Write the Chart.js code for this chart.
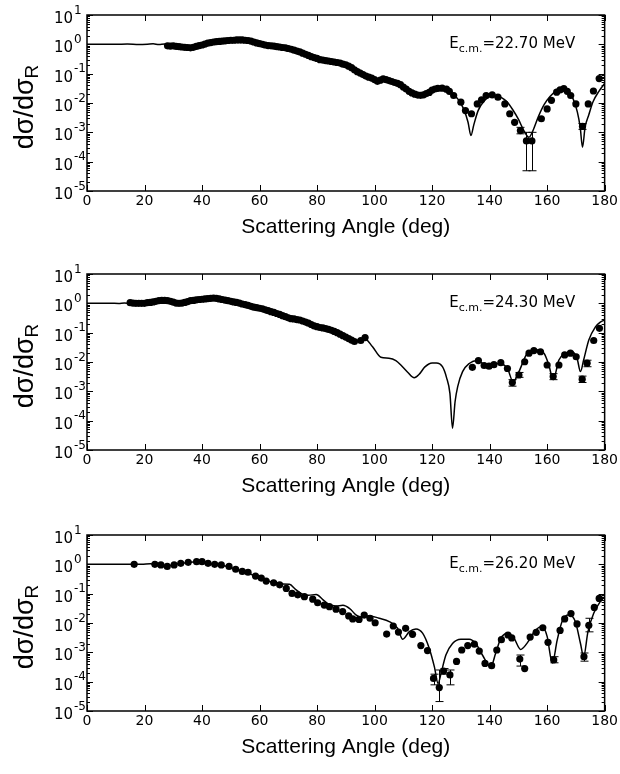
<!DOCTYPE html>
<html>
<head>
<meta charset="utf-8">
<script src="https://cdn.jsdelivr.net/npm/chart.js@4"></script>
<style>
  body { margin: 0; background: #fff; }
  canvas { position: absolute; left: 0; }
</style>
</head>
<body>
<canvas id="c1" width="620" height="250" style="top:0px"></canvas>
<canvas id="c2" width="620" height="250" style="top:259px"></canvas>
<canvas id="c3" width="620" height="250" style="top:520px"></canvas>
<script>
// ----------- Data ----------- //
const xTicks = [0, 20, 40, 60, 80, 100, 120, 140, 160, 180];
const yTicks = [10, 1, 0.1, 0.01, 0.001, 0.0001, 0.00001];
const yTickExps = ['1', '0', '-1', '-2', '-3', '-4', '-5'];
const energies = ['22.70', '24.30', '26.20'];
const xTitle = 'Scattering Angle (deg)';

// E = 22.70 MeV
const angle1 = [28, 29, 30, 31, 32, 33, 34, 35, 36, 37, 38, 39, 40, 41, 42, 43, 44, 45, 46, 47, 48, 49, 50,
  51, 52, 53, 54, 55, 56, 57, 58, 59, 60, 61, 62, 63, 64, 65, 66, 67, 68, 69, 70, 71, 72, 73, 74, 75,
  76, 77, 78, 79, 80, 81, 82, 83, 84, 85, 86, 87, 88, 89, 90, 91, 92, 93, 94, 95, 96, 97, 98, 99, 100,
  101, 102, 103, 104, 105, 106, 107, 108, 109, 110, 111, 112, 113, 114, 115, 116, 117, 118, 119, 120,
  121, 122, 123.5, 125, 126, 127.5, 130, 131.6, 133.7, 135.7, 137.2, 138.8, 140.9, 142.9, 145.3, 147,
  148.7, 150.7, 152.8, 154.7, 158, 160, 161.5, 163.3, 164.5, 165.8, 167, 168.2, 170, 172.3, 174.3, 176.1, 178.1];
const sigma1 = [.89, .87, .89, .85, .83, .81, .79, .78, .76, .79, .85, .91, .95, 1.02, 1.10, 1.15, 1.20, 1.23, 1.26, 1.29, 1.32, 1.35, 1.38,
  1.38, 1.41, 1.41, 1.41, 1.38, 1.35, 1.29, 1.20, 1.12, 1.05, 1.0, .95, .91, .89, .87, .83, .81, .78, .76, .72, .68, .63, .59, .55, .50,
  .46, .42, .38, .355, .33, .30, .29, .28, .27, .26, .25, .24, .23, .21, .20, .18, .16, .135, .117, .105, .093, .083, .076, .071, .063,
  .055, .060, .066, .063, .058, .054, .050, .047, .042, .035, .030, .025, .022, .020, .0186, .0182, .019, .021, .023, .0275,
  .030, .0316, .032, .0295, .025, .018, .0107, .0055, .0043, .0093, .0129, .018, .019, .0158, .0093, .0043,
  .0022, .00115, .00051, .00051, .0029, .0063, .0123, .0234, .028, .031, .025, .018, .0093, .0016, .0093, .0257, .068];
const curveAngle1 = [0, 5, 10, 14, 18, 21, 23, 25, 27, 28.5, 31, 34, 36, 38, 40, 43, 46, 50, 53, 56, 59, 62, 66, 70, 74, 78,
  82, 86, 90, 93, 96, 100, 102, 104, 108, 112, 115, 117, 120, 123, 125, 127, 129, 131, 132.5, 133.5, 134.5, 136, 138,
  140, 142, 144, 146, 148, 150, 152, 153.7, 155, 157, 159, 161, 163, 165, 167, 169, 170.5, 171.5, 172.3, 173.2, 174.5,
  176, 178, 180];
const curveSigma1 = [1.0, 1.0, 1.0, 1.02, .99, 1.01, 1.04, .98, 1.02, .90, .86, .80, .76, .84, .95, 1.15, 1.26, 1.38, 1.41, 1.35, 1.12, .95, .83, .72, .55, .38,
  .29, .25, .20, .135, .093, .063, .060, .063, .047, .025, .0186, .019, .0275, .032, .0295, .021, .0135, .0062, .0022, .00078, .0018, .0055, .0115,
  .0165, .018, .0155, .011, .006, .0028, .0011, .00068, .0011, .0035, .0089, .0166, .025, .0295, .025, .0141, .005, .0015, .00031, .0015, .004,
  .0112, .025, .046];
const errAngle1 = [150.7, 152.8, 154.7, 172.3];
const errLow1 = [8.9e-4, 4.9e-5, 4.9e-5, 1.26e-3];
const errHigh1 = [1.48e-3, 1.0e-3, 1.0e-3, 2.0e-3];

// E = 24.30 MeV
const angle2 = [15, 16, 17, 18, 19, 20, 21, 22, 23, 24, 25, 26, 27, 28, 29, 30, 31, 32, 33, 34, 35, 36, 37, 38, 39, 40,
  41, 42, 43, 44, 45, 46, 47, 48, 49, 50, 51, 52, 53, 54, 55, 56, 57, 58, 59, 60, 61, 62, 63, 64, 65, 66, 67, 68,
  69, 70, 71, 72, 73, 74, 75, 76, 77, 78, 79, 80, 81, 82, 83, 84, 85, 86, 87, 88, 89, 90, 91, 92, 93, 95.2, 96.7,
  134, 136.1, 138.1, 139.8, 141.5, 143.9, 146.2, 147.9, 150.2, 152.2, 153.7, 155.4, 157.7, 160, 162.1, 164.1,
  166.1, 168.1, 170.1, 172.2, 173.9, 176.2, 178.2];
const sigma2 = [1.05, 1.02, 1.0, 1.0, 1.0, 1.0, 1.05, 1.07, 1.12, 1.17, 1.23, 1.26, 1.26, 1.23, 1.17, 1.10, 1.02, 1.0, 1.02, 1.07, 1.15, 1.23, 1.26, 1.32, 1.35, 1.38,
  1.41, 1.45, 1.48, 1.51, 1.48, 1.41, 1.35, 1.29, 1.23, 1.17, 1.12, 1.07, 1.02, .95, .91, .85, .79, .74, .71, .68, .65, .60, .56, .52, .49, .45, .42, .38,
  .35, .32, .30, .295, .28, .27, .25, .23, .21, .19, .17, .16, .15, .145, .138, .129, .12, .11, .10, .089, .079, .071, .063, .056, .050, .054, .068,
  .0066, .0112, .0076, .0072, .0081, .0095, .006, .002, .0036, .0102, .020, .0245, .0224, .0079, .0032, .0079,
  .0174, .020, .0151, .0026, .0091, .054, .141];
const curveAngle2 = [0, 4, 8, 11, 13, 15, 18, 22, 26, 29, 32, 36, 40, 44, 47, 50, 54, 58, 62, 66, 70, 74, 78, 82, 86, 90, 93,
  96.4, 99.3, 102.2, 105, 107.4, 109.7, 111.5, 113.8, 115.5, 117.5, 120, 121.5, 123.6, 125, 126.2, 127.1, 128, 128.9,
  130.6, 132.9, 135.8, 138.7, 141, 143.3, 146.2, 148.2, 150.2, 153.1, 156, 158.9, 160.6, 162.1, 164.1, 166.4, 168.7,
  170.4, 171.6, 172.7, 174.5, 176.8, 178.5, 180];
const curveSigma2 = [1.0, 1.0, 1.01, .99, 1.02, 1.0, 1.0, 1.07, 1.26, 1.17, 1.0, 1.23, 1.38, 1.51, 1.35, 1.17, .95, .74, .60, .45, .32, .27, .19, .145, .11, .071, .052,
  .065, .033, .0145, .0135, .0112, .0069, .0045, .0029, .0038, .0068, .0093, .0093, .0069, .0030, .00085, .000055, .00045, .00145,
  .0047, .0089, .0112, .0079, .0083, .0089, .006, .0021, .0047, .020, .026, .020, .0079, .0025, .0117, .020, .0224,
  .0135, .0047, .0117, .056, .158, .23, .27];
const errAngle2 = [147.9, 150.2, 162.1, 172.2, 173.9];
const errLow2 = [1.5e-3, 3.0e-3, 2.5e-3, 2.0e-3, 6.9e-3];
const errHigh2 = [2.5e-3, 4.4e-3, 4.0e-3, 3.3e-3, 1.15e-2];

// E = 26.20 MeV
const angle3 = [16.4, 23.6, 25.7, 27.9, 30.3, 32.6, 35.2, 38.1, 40, 42.1, 44.4, 46.7, 49.4, 51.7, 54, 56, 58.6, 60.6, 62.3,
  64.9, 67, 69.3, 71.3, 73.3, 75.6, 78.5, 80.2, 82.5, 84.3, 86.6, 88.9, 91, 92.4, 94.6, 96.4, 98.4, 100.2, 104.2, 106.5,
  108.3, 110.8, 113.2, 116.1, 118.4, 120.5, 122.5, 124, 126.2, 128.5, 130.3, 132.4, 134.7, 136.4, 138.4, 140.7, 142.5,
  144.1, 146.4, 147.7, 150.5, 152.2, 154.1, 156.2, 158.5, 160.3, 162.3, 164.5, 166.1, 168.3, 170.4, 172.8, 174.5, 176.4, 178.1];
const sigma3 = [1.0, 1.0, .955, .85, .955, 1.08, 1.17, 1.23, 1.23, 1.08, 1.0, .955, .85, .68, .575, .537, .398, .339, .269,
  .234, .20, .151, .102, .091, .079, .065, .049, .041, .036, .0295, .0245, .0174, .0138, .0132, .0186, .0145, .0102, .0042, .0079,
  .0049, .0066, .0041, .0017, .00115, .000129, .000063, .00023, .00017, .00049, .0012, .0017, .0019, .0011, .00042, .00035, .0012,
  .0027, .0039, .0031, .00059, .00028, .0033, .0048, .0069, .0022, .00055, .0056, .0138, .0209, .0093, .00071, .0083, .0339, .069];
const curveAngle3 = [0, 5, 10, 15, 19, 22, 24.5, 26.5, 28.5, 31, 34, 37, 40, 43, 46, 49, 52, 55, 58, 61, 64, 67, 70.4, 72.5,
  75, 77, 79.7, 82, 84, 86.5, 89, 91.5, 93.5, 95.5, 98, 101.6, 105.1, 108, 109.8, 112.1, 114.4, 116.7, 119, 120.8, 122.1,
  123.1, 124.8, 127.1, 130, 132.9, 135.2, 137.5, 140.4, 142.1, 143.9, 146.2, 148.5, 150.8, 153.1, 156, 158.3, 160,
  161.8, 163.5, 165.2, 167.5, 169.8, 171.6, 172.7, 174.2, 176.2, 178.5, 180];
const curveSigma3 = [1.0, 1.0, 1.0, 1.0, 1.0, 1.05, .97, .85, .90, 1.02, 1.12, 1.20, 1.23, 1.05, .96, .85, .66, .55, .42, .32, .25, .214, .209, .141,
  .095, .089, .093, .063, .044, .038, .040, .030, .019, .0155, .0178, .0145, .0112, .0066, .0028, .0051, .0063, .0045, .00138, .00032, .000087,
  .00019, .00081, .0020, .0028, .0028, .0020, .00081, .00032, .00093, .0030, .0045, .0030, .00126, .0021, .0058, .0076, .0035,
  .00043, .0026, .0112, .019, .0112, .0020, .00071, .0051, .0214, .054, .079];
const errAngle3 = [120.5, 122.5, 124, 126.2, 150.5, 162.3, 172.8, 174.5];
const errLow3 = [7.8e-5, 2.1e-5, 1.8e-4, 7.8e-5, 3.4e-4, 4.4e-4, 5.0e-4, 5.0e-3];
const errHigh3 = [1.8e-4, 2.5e-4, 2.8e-4, 2.5e-4, 8.1e-4, 7.1e-4, 9.5e-4, 1.45e-2];

// ----------- Drawing helpers ----------- //
const errorBars = {
  id: 'errorBars',
  beforeDatasetsDraw(chart, args, opts) {
    const {ctx, scales: {x, y}} = chart;
    ctx.save();
    ctx.strokeStyle = '#000';
    ctx.lineWidth = 1;
    opts.angles.forEach((a, i) => {
      const px = Math.round(x.getPixelForValue(a)) + 0.5;
      const lo = y.getPixelForValue(opts.low[i]);
      const hi = y.getPixelForValue(opts.high[i]);
      ctx.beginPath();
      ctx.moveTo(px, lo); ctx.lineTo(px, hi);
      ctx.moveTo(px - 4, lo); ctx.lineTo(px + 4, lo);
      ctx.moveTo(px - 4, hi); ctx.lineTo(px + 4, hi);
      ctx.stroke();
    });
    ctx.restore();
  }
};

const frame = {
  id: 'frame',
  afterDraw(chart, args, opts) {
    const {ctx, chartArea: a, scales: {x, y}} = chart;
    ctx.save();
    ctx.strokeStyle = '#000';
    ctx.fillStyle = '#000';

    // ticks, pointing inward
    ctx.lineWidth = 1;
    ctx.beginPath();
    xTicks.forEach(v => {
      const px = Math.round(x.getPixelForValue(v)) + 0.5;
      ctx.moveTo(px, a.top); ctx.lineTo(px, a.top + 6);
      ctx.moveTo(px, a.bottom); ctx.lineTo(px, a.bottom - 6);
    });
    yTicks.forEach((v, i) => {
      const py = Math.round(y.getPixelForValue(v)) + 0.5;
      ctx.moveTo(a.left, py); ctx.lineTo(a.left + 6, py);
      ctx.moveTo(a.right, py); ctx.lineTo(a.right - 6, py);
      if (i === 0) return;
      for (let k = 2; k <= 9; k++) {
        const pm = Math.round(y.getPixelForValue(v * k)) + 0.5;
        ctx.moveTo(a.left, pm); ctx.lineTo(a.left + 3, pm);
        ctx.moveTo(a.right, pm); ctx.lineTo(a.right - 3, pm);
      }
    });
    ctx.stroke();

    // box
    ctx.lineWidth = 1.5;
    ctx.strokeRect(a.left, a.top, a.right - a.left, a.bottom - a.top);

    // y tick labels 10^n
    yTicks.forEach((v, i) => {
      const py = y.getPixelForValue(v);
      ctx.textBaseline = 'alphabetic';
      ctx.font = '15px "DejaVu Sans"';
      ctx.textAlign = 'right';
      ctx.fillText('10', 73, py + 8);
      ctx.font = '12px "DejaVu Sans"';
      ctx.textAlign = 'left';
      ctx.fillText(yTickExps[i], 74, py - 1.5);
    });

    // y axis title dσ/dσR
    ctx.save();
    ctx.translate(33, (a.top + a.bottom) / 2 + 4);
    ctx.rotate(-Math.PI / 2);
    ctx.font = '27px "Liberation Sans"';
    const main = 'dσ/dσ';
    const wMain = ctx.measureText(main).width;
    ctx.font = '19px "Liberation Sans"';
    const wSub = ctx.measureText('R').width;
    const start = -(wMain + wSub) / 2;
    ctx.textAlign = 'left';
    ctx.font = '27px "Liberation Sans"';
    ctx.fillText(main, start, 0);
    ctx.font = '19px "Liberation Sans"';
    ctx.fillText('R', start + wMain, 5);
    ctx.restore();

    // energy label
    const base = a.top + 32.5;
    ctx.textAlign = 'left';
    ctx.font = '15px "DejaVu Sans"';
    const wE = ctx.measureText('E').width;
    const tail = '=' + opts.energy + ' MeV';
    const wT = ctx.measureText(tail).width;
    ctx.font = '11px "DejaVu Sans"';
    const wS = ctx.measureText('c.m.').width;
    let tx = a.right - 29.5 - (wE + wS + wT);
    ctx.font = '15px "DejaVu Sans"';
    ctx.fillText('E', tx, base);
    ctx.font = '11px "DejaVu Sans"';
    ctx.fillText('c.m.', tx + wE, base + 4);
    ctx.font = '15px "DejaVu Sans"';
    ctx.fillText(tail, tx + wE + wS, base);

    ctx.restore();
  }
};

const makePanel = (id, angles, sigmas, cAngles, cSigmas, eAngles, eLow, eHigh, energy) => {
  new Chart(document.getElementById(id), {
    data: {
      datasets: [{
        type: 'scatter',
        data: angles.map((a, i) => ({x: a, y: sigmas[i]})),
        pointRadius: 3.6,
        pointBackgroundColor: '#000',
        pointBorderWidth: 0,
        order: 0
      }, {
        type: 'line',
        data: cAngles.map((a, i) => ({x: a, y: cSigmas[i]})),
        borderColor: '#000',
        borderWidth: 1.5,
        pointRadius: 0,
        cubicInterpolationMode: 'monotone',
        order: 1
      }]
    },
    options: {
      responsive: false,
      animation: false,
      events: [],
      layout: { padding: { top: 15, right: 14, left: 0, bottom: 0 } },
      plugins: {
        legend: { display: false },
        tooltip: { enabled: false },
        errorBars: { angles: eAngles, low: eLow, high: eHigh },
        frame: { energy: energy }
      },
      scales: {
        x: {
          type: 'linear', min: 0, max: 180,
          afterBuildTicks: s => { s.ticks = xTicks.map(v => ({value: v})); },
          afterFit: s => { s.height = 59; },
          ticks: { font: { family: 'DejaVu Sans', size: 14 }, color: '#000', padding: 2, maxRotation: 0, autoSkip: false },
          grid: { display: false, drawTicks: false },
          border: { display: false },
          title: {
            display: true, text: xTitle, color: '#000',
            font: { family: 'Liberation Sans', size: 21 },
            padding: { top: 0, bottom: 10 }
          }
        },
        y: {
          type: 'logarithmic', min: 1e-5, max: 10,
          afterBuildTicks: s => { s.ticks = yTicks.map(v => ({value: v})); },
          afterFit: s => { s.width = 87; },
          ticks: { display: false },
          grid: { display: false, drawTicks: false },
          border: { display: false }
        }
      }
    },
    plugins: [errorBars, frame]
  });
};

makePanel('c1', angle1, sigma1, curveAngle1, curveSigma1, errAngle1, errLow1, errHigh1, energies[0]);
makePanel('c2', angle2, sigma2, curveAngle2, curveSigma2, errAngle2, errLow2, errHigh2, energies[1]);
makePanel('c3', angle3, sigma3, curveAngle3, curveSigma3, errAngle3, errLow3, errHigh3, energies[2]);
</script>
</body>
</html>
